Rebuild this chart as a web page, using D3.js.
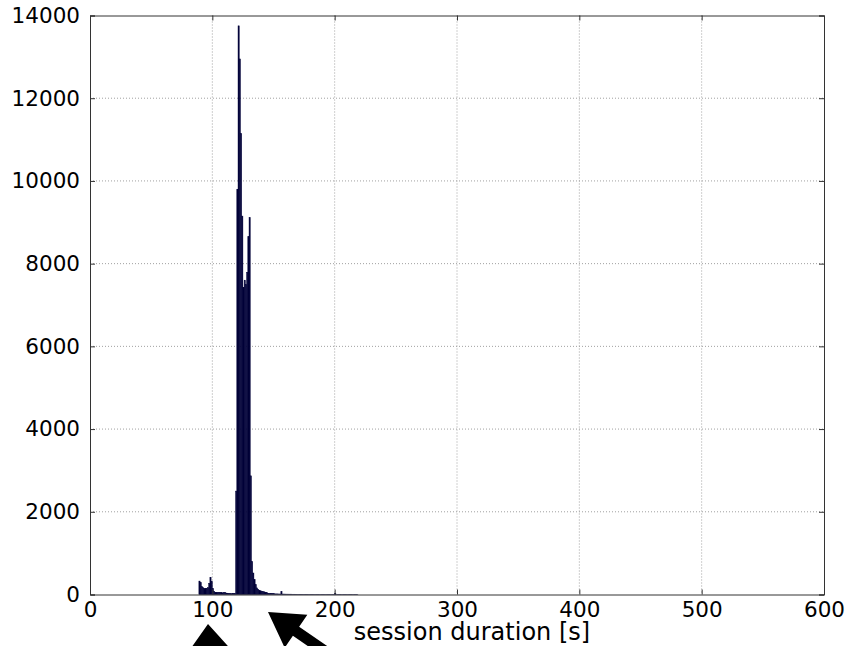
<!DOCTYPE html>
<html><head><meta charset="utf-8">
<script src="https://cdn.jsdelivr.net/npm/d3@7"></script>
<style>body{margin:0;background:#fff}svg{display:block}</style>
</head><body>
<svg id="c" width="848" height="646"></svg>
<script>
// ---- data ----
const firstBin = 89;            // left edge (s) of the first listed 1-second bin
const counts = [
  325, 290, 190, 165, 150, 145, 150, 165, 270, 415,   // 89-98
  320, 150, 70, 55, 50, 45, 50, 55, 45, 40,           // 99-108
  50, 45, 35, 30, 25, 20, 18, 20, 22, 25,             // 109-118
  2500, 9800, 13750, 12950, 11150, 9150, 7430, 7600, 7500, 7790, // 119-128
  8650, 9110, 2870, 800, 520, 360, 240, 160, 120, 100, // 129-138
  90, 75, 70, 65, 50, 45, 30, 25, 22, 20,             // 139-148
  18, 18, 15, 15, 14, 12, 12, 70, 12, 10,             // 149-158
  10, 9, 9, 8, 8, 8, 7, 7, 7, 6,                      // 159-168
  6, 6, 6, 5, 5, 5, 5, 5, 4, 4,                       // 169-178
  4, 4, 4, 4, 4, 3, 3, 3, 3, 3,                       // 179-188
  3, 3, 3, 3, 3, 3, 3, 3, 3, 3,                       // 189-198
  3, 30, 3, 3, 3, 3, 2, 2, 2, 2,                      // 199-208
  2, 2, 2, 2, 2, 2, 2, 2, 2, 2                        // 209-218
];
const xTicks = [0, 100, 200, 300, 400, 500, 600];
const yTicks = [0, 2000, 4000, 6000, 8000, 10000, 12000, 14000];
const xLabel = "session duration [s]";

// ---- layout ----
const L = 90, R = 824, T = 15.5, B = 594.5;
const svg = d3.select("#c");
const x = d3.scaleLinear().domain([0, 600]).range([L, R]);
const y = d3.scaleLinear().domain([0, 14000]).range([B, T]);
const font = "DejaVu Sans, sans-serif";

// grid
const g = svg.append("g");
g.selectAll("line.gx").data(xTicks.slice(1, -1)).join("line")
  .attr("x1", d => x(d)).attr("x2", d => x(d)).attr("y1", T).attr("y2", B)
  .attr("stroke", "#a0a0a0").attr("stroke-width", 1).attr("stroke-dasharray", "1,2");
g.selectAll("line.gy").data(yTicks.slice(1, -1)).join("line")
  .attr("y1", d => y(d)).attr("y2", d => y(d)).attr("x1", L).attr("x2", R)
  .attr("stroke", "#a0a0a0").attr("stroke-width", 1).attr("stroke-dasharray", "1,2");

// bars
const bins = counts.map((c, i) => ({ start: firstBin + i, count: c }));
svg.append("g").selectAll("rect").data(bins).join("rect")
  .attr("x", d => x(d.start))
  .attr("width", d => x(d.start + 1) - x(d.start))
  .attr("y", d => y(d.count))
  .attr("height", d => B - y(d.count))
  .attr("fill", "#000038")
  .attr("stroke", "#000038").attr("stroke-width", 0.45);

// axes
const ax = svg.append("g").attr("transform", `translate(0,${B})`)
  .call(d3.axisBottom(x).tickValues(xTicks).tickSize(-5).tickPadding(7).tickFormat(d3.format("d")));
const ay = svg.append("g").attr("transform", `translate(${L},0)`)
  .call(d3.axisLeft(y).tickValues(yTicks).tickSize(-5).tickPadding(10).tickFormat(d3.format("d")));
const axT = svg.append("g").attr("transform", `translate(0,${T})`)
  .call(d3.axisTop(x).tickValues(xTicks).tickSize(-5).tickFormat(""));
const ayR = svg.append("g").attr("transform", `translate(${R},0)`)
  .call(d3.axisRight(y).tickValues(yTicks).tickSize(-5).tickFormat(""));
[ax, ay, axT, ayR].forEach(a => {
  a.select(".domain").attr("stroke", "#333").attr("stroke-width", 1);
  a.selectAll(".tick line").attr("stroke", "#333");
  a.selectAll("text").attr("font-family", font).attr("font-size", 21.5).attr("fill", "#000");
});

// x label
svg.append("text").attr("x", 472).attr("y", 640).attr("text-anchor", "middle")
  .attr("font-family", font).attr("font-size", 24).text(xLabel);

// annotation arrows
function arrow(tail, tip, shaftW, headL, headW) {
  const dx = tip[0] - tail[0], dy = tip[1] - tail[1];
  const len = Math.hypot(dx, dy), ux = dx / len, uy = dy / len, px = -uy, py = ux;
  const bx = tip[0] - ux * headL, by = tip[1] - uy * headL;
  const pts = [
    [tail[0] + px * shaftW / 2, tail[1] + py * shaftW / 2],
    [bx + px * shaftW / 2, by + py * shaftW / 2],
    [bx + px * headW / 2, by + py * headW / 2],
    tip,
    [bx - px * headW / 2, by - py * headW / 2],
    [bx - px * shaftW / 2, by - py * shaftW / 2],
    [tail[0] - px * shaftW / 2, tail[1] - py * shaftW / 2]
  ];
  svg.append("path").attr("d", "M" + pts.map(p => p.join(",")).join("L") + "Z").attr("fill", "#000");
}
arrow([212, 690], [208, 624], 11, 30, 48);
arrow([332, 656], [268, 612], 11, 34, 40);
</script>
</body></html>
